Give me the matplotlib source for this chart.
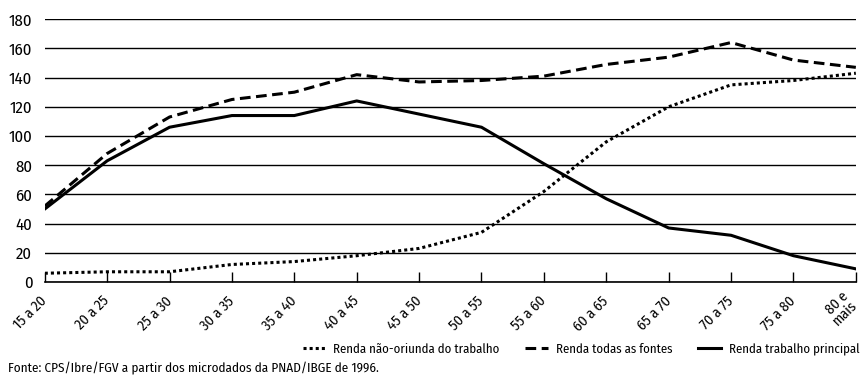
import matplotlib.pyplot as plt
import matplotlib.font_manager as fm
from matplotlib.transforms import ScaledTranslation

# fonte condensada parecida com a do original
instaladas = set(f.name for f in fm.fontManager.ttflist)
fonte = 'DejaVu Sans'
for nome in ['Fira Sans Condensed', 'Asap Condensed', 'Roboto Condensed', 'Archivo Narrow', 'Barlow Semi Condensed']:
    if nome in instaladas:
        fonte = nome
        break
plt.rcParams['font.family'] = [fonte, 'DejaVu Sans']

faixas = ['15 a 20', '20 a 25', '25 a 30', '30 a 35', '35 a 40', '40 a 45', '45 a 50',
          '50 a 55', '55 a 60', '60 a 65', '65 a 70', '70 a 75', '75 a 80', '80 e\nmais']
nao_oriunda = [6, 7, 7, 12, 14, 18, 23, 34, 62, 96, 120, 135, 138, 143]
todas_fontes = [52, 88, 113, 125, 130, 142, 137, 138, 141, 149, 154, 164, 152, 147]
trabalho_principal = [50, 83, 106, 114, 114, 124, 115, 106, 81, 57, 37, 32, 18, 9]

fig = plt.figure(figsize=(8.61, 3.76), dpi=100)
ax = fig.add_axes([0.052, 0.25, 0.942, 0.699])

x = range(len(faixas))
ax.plot(x, nao_oriunda, color='black', lw=2.2, linestyle=(0, (1, 1)), label='Renda não-oriunda do trabalho')
ax.plot(x, todas_fontes, color='black', lw=2.2, linestyle=(0, (3.5, 1.8)), label='Renda todas as fontes')
ax.plot(x, trabalho_principal, color='black', lw=2.2, label='Renda trabalho principal')

ax.set_ylim(0, 180)
ax.set_xlim(0, len(faixas) - 1)
ax.set_yticks(range(0, 181, 20))
ax.yaxis.grid(True, color='black', lw=1)
ax.set_axisbelow(True)
for s in ['top', 'left', 'right']:
    ax.spines[s].set_visible(False)
ax.spines['bottom'].set_linewidth(1.2)
ax.tick_params(axis='y', length=0, labelsize=12, pad=9)
ax.tick_params(axis='x', direction='in', length=7, width=1, labelsize=10.5, pad=12)
ax.set_xticks(list(x))
ax.set_xticklabels(faixas, rotation=45, ha='right', va='center', rotation_mode='anchor',
                   linespacing=0.85)
# o ultimo rotulo fica um pouco para dentro
ultimo = ax.get_xticklabels()[-1]
ultimo.set_transform(ultimo.get_transform() + ScaledTranslation(-4 / 72, 0, fig.dpi_scale_trans))

fig.legend(loc='center right', bbox_to_anchor=(0.998, 0.072), ncol=3, frameon=False,
           fontsize=9.2, handlelength=1.8, columnspacing=2.0, handletextpad=0.6,
           borderaxespad=0, borderpad=0)
fig.text(0.009, 0.021, 'Fonte: CPS/Ibre/FGV a partir dos microdados da PNAD/IBGE de 1996.',
         fontsize=9.5, va='center')

fig.savefig('out.png', dpi=100)
